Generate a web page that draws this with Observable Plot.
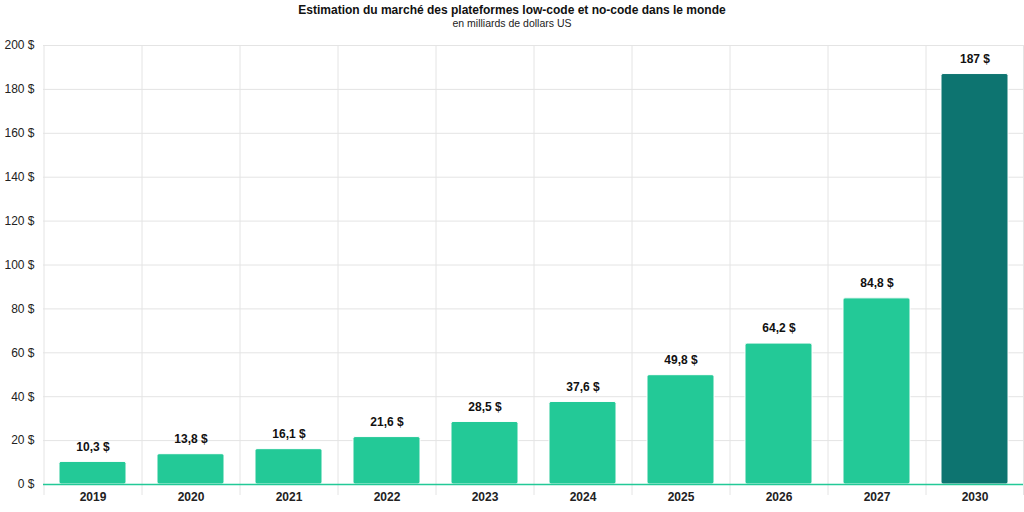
<!DOCTYPE html>
<html><head><meta charset="utf-8">
<script src="https://cdn.jsdelivr.net/npm/d3@7"></script>
<script src="https://cdn.jsdelivr.net/npm/@observablehq/plot@0.6"></script>
<style>
body{margin:0;background:#fff;font-family:"Liberation Sans",Arial,sans-serif;}
#title{text-align:center;font-size:12px;font-weight:bold;color:#111;line-height:14px;padding-top:3px;}
#sub{text-align:center;font-size:10.5px;color:#222;line-height:13px;}
svg{display:block}
</style></head><body>
<div id="title">Estimation du marché des plateformes low-code et no-code dans le monde</div>
<div id="sub">en milliards de dollars US</div>
<div id="chart"></div>
<script>
const years = ["2019","2020","2021","2022","2023","2024","2025","2026","2027","2030"];
const values = [10.3, 13.8, 16.1, 21.6, 28.5, 37.6, 49.8, 64.2, 84.8, 187];
const highlight = ["2030"];
const yTicks = [0,20,40,60,80,100,120,140,160,180,200];

const data = years.map((y,i)=>({year:y, value:values[i], hi: highlight.includes(y)}));
const fr = d3.formatLocale({decimal:",", thousands:"\u202f", grouping:[3], currency:["","\u00a0$"]});
const fmt = v => fr.format("~r")(v) + " $";

const W = 1024, ML = 43, MR = 1;
const step = (W - ML - MR) / years.length;

const chart = Plot.plot({
  width: W, height: 482,
  marginTop: 15, marginBottom: 28, marginLeft: ML, marginRight: MR,
  style: {fontFamily: '"Liberation Sans", Arial, sans-serif', fontSize: "12px", color: "#222", background: "#fff"},
  x: {domain: years, paddingInner: 0.32, paddingOuter: 0.16, axis: null},
  y: {domain: [0, 200], axis: null},
  marks: [
    Plot.ruleY(yTicks, {stroke: "#e4e4e4", strokeWidth: 1}),
    Plot.ruleX(years, {x: d=>d, dx: -step/2, y1: 200, y2: 0, stroke: "#e4e4e4", insetBottom: -11}),
    Plot.ruleX([years[years.length-1]], {x: d=>d, dx: step/2 - 0.5, y1: 200, y2: 0, stroke: "#e4e4e4", insetBottom: -11}),
    Plot.barY(data, {x: "year", y: "value", fill: d => d.hi ? "#0d7470" : "#23c997", rx: 2, stroke: "#fff", strokeWidth: 1}),
    Plot.ruleY([0], {stroke: "#23c997", strokeWidth: 1.5}),
    Plot.text(data, {x: "year", y: "value", text: d => fmt(d.value), dy: -15, fontWeight: "bold", fontSize: 12, fill: "#111"}),
    Plot.text(years, {x: d=>d, frameAnchor: "bottom", dy: 16, text: d=>d, fontWeight: "bold", fontSize: 12, fill: "#222"}),
    Plot.text(yTicks, {y: d=>d, frameAnchor: "left", dx: -9, textAnchor: "end", text: d => d + " $", fontSize: 12, fontWeight: 500, fill: "#222"})
  ]
});
document.getElementById("chart").appendChild(chart);
</script>
</body></html>
